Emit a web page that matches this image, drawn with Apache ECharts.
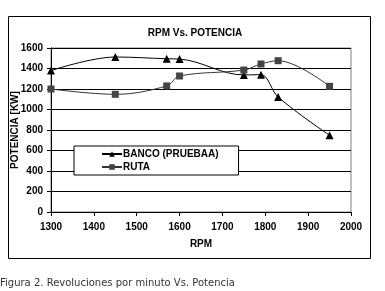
<!DOCTYPE html>
<html>
<head>
<meta charset="utf-8">
<script src="https://cdn.jsdelivr.net/npm/echarts@6/dist/echarts.min.js"></script>
<style>
  html, body { margin: 0; padding: 0; background: #fff; }
  #chart { width: 385px; height: 291px; }
</style>
</head>
<body>
<div id="chart"></div>
<script>
// RPM vs potencia — dos curvas suavizadas (estilo Excel)
const rpmBanco = [1300, 1450, 1570, 1600, 1750, 1790, 1830, 1950];
const potBanco = [1380, 1512, 1495, 1492, 1337, 1340, 1122, 748];
const rpmRuta = [1300, 1450, 1570, 1600, 1750, 1790, 1830, 1950];
const potRuta = [1200, 1148, 1230, 1327, 1385, 1444, 1476, 1226];
const seriesNames = ["BANCO (PRUEBAA)", "RUTA"];
const titleText = "RPM Vs. POTENCIA";
const caption = "Figura 2. Revoluciones por minuto Vs. Potencia";

const zip = (xs, ys) => xs.map((x, i) => [x, ys[i]]);
const axisFont = { fontFamily: "Arial, 'Liberation Sans', sans-serif", fontWeight: "bold", fontSize: 10, color: "#000" };

const chart = echarts.init(document.getElementById("chart"), null, { renderer: "canvas" });
chart.setOption({
  animation: false,
  backgroundColor: "#fff",
  title: {
    text: titleText,
    left: 190, top: 23, textAlign: "center",
    textStyle: { fontFamily: "Arial, 'Liberation Sans', sans-serif", fontWeight: "bold", fontSize: 10, color: "#000" },
  },
  graphic: [
    { type: "rect", shape: { x: 8.5, y: 16.5, width: 362, height: 242 }, style: { fill: null, stroke: "#000", lineWidth: 1 }, z: -1 },
    { type: "text", left: 0, top: 278, style: { text: caption, font: "10px 'DejaVu Sans', Verdana, sans-serif", fill: "#333" } },
  ],
  grid: {
    left: 51, right: 34, top: 48, bottom: 79,
    containLabel: false, outerBoundsMode: "none",
    show: true, borderColor: "#808080", borderWidth: 1, backgroundColor: "#fff",
  },
  legend: {
    orient: "vertical",
    left: 74, top: 146,
    padding: [3, 20, 3, 27],
    itemGap: 3,
    itemWidth: 20, itemHeight: 7,
    backgroundColor: "#fff",
    borderColor: "#000", borderWidth: 1,
    textStyle: { fontFamily: "Arial, 'Liberation Sans', sans-serif", fontWeight: "bold", fontSize: 10, color: "#000", padding: [0, 0, 0, -4] },
    data: seriesNames,
  },
  xAxis: {
    type: "value", min: 1300, max: 2000, interval: 100,
    name: "RPM", nameLocation: "middle", nameGap: 27, nameMoveOverlap: false,
    nameTextStyle: axisFont,
    axisLine: { lineStyle: { color: "#000", width: 1 } },
    axisTick: { show: true, length: 4, lineStyle: { color: "#000" } },
    axisLabel: Object.assign({ margin: 10, formatter: (v) => String(v) }, axisFont),
    splitLine: { show: false },
  },
  yAxis: {
    type: "value", min: 0, max: 1600, interval: 200,
    name: "POTENCIA [KW]", nameLocation: "middle", nameGap: 31, nameMoveOverlap: false,
    nameTextStyle: axisFont,
    axisLine: { show: true, lineStyle: { color: "#000", width: 1 } },
    axisTick: { show: true, length: 4, lineStyle: { color: "#000" } },
    axisLabel: Object.assign({ margin: 8, formatter: (v) => String(v) }, axisFont),
    splitLine: { show: true, lineStyle: { color: "#000", width: 1 } },
  },
  series: [
    {
      name: seriesNames[0], type: "line", smooth: 0.35,
      data: zip(rpmBanco, potBanco),
      symbol: "triangle", symbolSize: 8,
      lineStyle: { color: "#000", width: 1 },
      itemStyle: { color: "#000" },
    },
    {
      name: seriesNames[1], type: "line", smooth: 0.35,
      data: zip(rpmRuta, potRuta),
      symbol: "rect", symbolSize: 7,
      lineStyle: { color: "#333", width: 1 },
      itemStyle: { color: "#444" },
    },
  ],
});
</script>
</body>
</html>
